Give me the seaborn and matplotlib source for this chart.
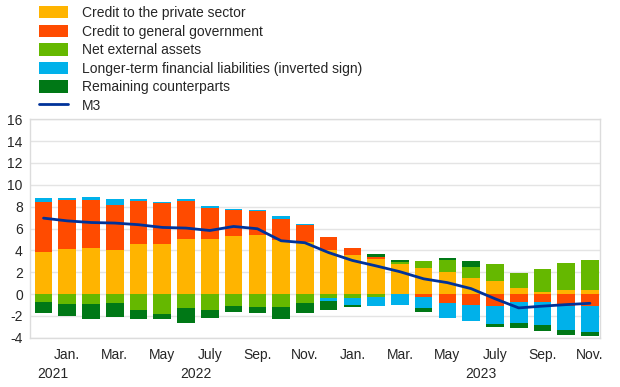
import numpy as np
import pandas as pd
import matplotlib
matplotlib.use("Agg")
import matplotlib.pyplot as plt
import matplotlib.transforms as mtransforms
from matplotlib.patches import Patch
from matplotlib.lines import Line2D
import seaborn as sns

# ---- data (Dec 2021 - Nov 2023, annual growth contributions, p.p.) ----
months = ["Dec 21", "Jan 22", "Feb 22", "Mar 22", "Apr 22", "May 22", "Jun 22",
          "Jul 22", "Aug 22", "Sep 22", "Oct 22", "Nov 22", "Dec 22",
          "Jan 23", "Feb 23", "Mar 23", "Apr 23", "May 23", "Jun 23",
          "Jul 23", "Aug 23", "Sep 23", "Oct 23", "Nov 23"]
private_sector = [3.84, 4.15, 4.24, 4.05, 4.57, 4.63, 5.03, 5.00, 5.30, 5.43, 4.91, 4.73,
                  4.05, 3.54, 3.17, 2.80, 2.38, 2.04, 1.46, 1.22, 0.52, 0.18, 0.34, 0.37]
general_gov = [4.57, 4.42, 4.33, 4.12, 3.97, 3.69, 3.51, 2.87, 2.35, 2.13, 1.95, 1.58,
               1.22, 0.67, 0.24, 0.00, -0.27, -0.82, -0.98, -1.07, -0.76, -0.76, -1.07, -1.13]
net_external = [-0.70, -0.91, -0.91, -0.85, -1.43, -1.80, -1.25, -1.43, -1.13, -1.19, -1.16, -0.85,
                -0.37, -0.40, -0.24, 0.13, 0.67, 1.04, 1.01, 1.52, 1.40, 2.11, 2.50, 2.74]
longer_term = [0.34, 0.18, 0.33, 0.49, 0.15, 0.13, 0.15, 0.15, 0.15, 0.18, 0.30, 0.12,
               -0.24, -0.58, -0.89, -1.00, -1.01, -1.38, -1.52, -1.67, -1.89, -2.04, -2.22, -2.35]
remaining = [-1.04, -1.10, -1.41, -1.22, -0.80, -0.52, -1.37, -0.73, -0.46, -0.55, -1.13, -0.86,
             -0.82, -0.18, 0.28, 0.21, -0.37, 0.18, 0.52, -0.25, -0.49, -0.55, -0.43, -0.33]
m3 = [6.95, 6.70, 6.55, 6.50, 6.35, 6.10, 6.04, 5.82, 6.19, 5.98, 4.88, 4.70,
      3.80, 3.08, 2.58, 2.05, 1.40, 1.05, 0.50, -0.42, -1.26, -1.10, -0.96, -0.84]

tick_labels = ["Jan.", "Mar.", "May", "July", "Sep.", "Nov.",
               "Jan.", "Mar.", "May", "July", "Sep.", "Nov."]
year_labels = ["2021", "2022", "2023"]

series_names = ["Credit to the private sector", "Credit to general government",
                "Net external assets", "Longer-term financial liabilities (inverted sign)",
                "Remaining counterparts"]
series_values = [private_sector, general_gov, net_external, longer_term, remaining]
colors = ["#FFB400", "#FF4B00", "#65B800", "#00B1EA", "#007816"]
m3_color = "#003299"

sns.set_theme(style="white")
plt.rcParams["font.family"] = ["Liberation Sans", "DejaVu Sans"]

fig = plt.figure(figsize=(6.2, 3.87), dpi=100)
ax = fig.add_axes([0.048, 0.127, 0.92, 0.565])

n = len(months)
idx = np.arange(n)
pos_base = np.zeros(n)
neg_base = np.zeros(n)
for name, vals, col in zip(series_names, series_values, colors):
    v = np.array(vals, dtype=float)
    bottoms = np.where(v >= 0, pos_base, neg_base)
    df = pd.DataFrame({"x": idx, "y": v})
    sns.barplot(data=df, x="x", y="y", bottom=bottoms, color=col, width=0.745,
                errorbar=None, saturation=1, ax=ax, linewidth=0, zorder=2)
    pos_base = pos_base + np.where(v >= 0, v, 0)
    neg_base = neg_base + np.where(v < 0, v, 0)

sns.lineplot(x=idx, y=m3, color=m3_color, linewidth=2.0, ax=ax, zorder=3)

ax.set_xlim(-0.58, 23.43)
ax.set_ylim(-4, 16)
ax.set_yticks(np.arange(-4, 17, 2))
ax.set_yticklabels([str(t) for t in range(-4, 17, 2)], fontsize=10)
ax.set_xticks(idx[1::2])
ax.set_xticklabels(tick_labels, fontsize=10)
ax.tick_params(axis="both", length=0)
ax.tick_params(axis="x", pad=7.5)
ax.tick_params(axis="y", pad=5)
ax.set_xlabel("")
ax.set_ylabel("")
ax.grid(axis="y", color="#e4e4e4", linewidth=1.0, zorder=0)
ax.set_axisbelow(True)
for s in ax.spines.values():
    s.set_color("#dcdcdc")
    s.set_linewidth(1.0)

trans = mtransforms.blended_transform_factory(ax.transData, ax.transAxes)
for lab, xi in zip(year_labels, [1, 7, 19]):
    ax.text(xi - 0.6, -0.132, lab, transform=trans, ha="center", va="top", fontsize=10)

handles = [Patch(facecolor=c, edgecolor="none") for c in colors]
handles.append(Line2D([0], [0], color=m3_color, linewidth=2.0))
labels = series_names + ["M3"]
fig.legend(handles, labels, loc="upper left", bbox_to_anchor=(0.06, 0.988),
           frameon=False, fontsize=10, handlelength=2.1, handleheight=1.0,
           handletextpad=1.05, labelspacing=0.33, borderaxespad=0.0, borderpad=0.1)

fig.savefig("out.png", dpi=100)
